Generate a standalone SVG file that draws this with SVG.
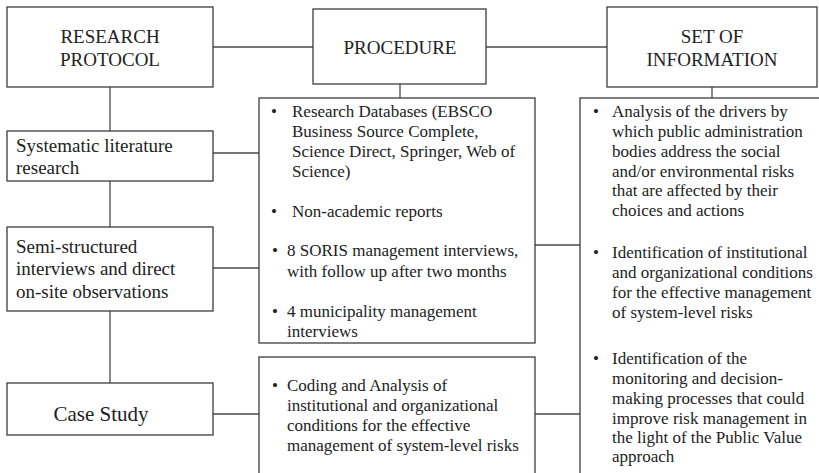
<svg xmlns="http://www.w3.org/2000/svg" width="819" height="473" viewBox="0 0 819 473">
  <style>
    .box { fill: #ffffff; stroke: #3c3c3c; stroke-width: 1.3; }
    .link { fill: none; stroke: #4a4a4a; stroke-width: 1.3; }
    .head { font-family: "Liberation Serif", "Times New Roman", serif; font-size: 19px; fill: #222222; text-anchor: middle; }
    .step { font-family: "Liberation Serif", "Times New Roman", serif; font-size: 19px; fill: #222222; }
    .body { font-family: "Liberation Serif", "Times New Roman", serif; font-size: 17px; fill: #222222; }
  </style>
  <rect width="819" height="473" fill="#ffffff"/>

  <!-- connectors -->
  <g id="connectors">
    <line class="link" x1="213" y1="47" x2="313" y2="47"/>
    <line class="link" x1="486" y1="47" x2="607" y2="47"/>
    <line class="link" x1="110" y1="87" x2="110" y2="131"/>
    <line class="link" x1="110" y1="181" x2="110" y2="227"/>
    <line class="link" x1="110" y1="311" x2="110" y2="383"/>
    <line class="link" x1="400" y1="84" x2="400" y2="98"/>
    <line class="link" x1="712" y1="87" x2="712" y2="98"/>
    <line class="link" x1="213" y1="153" x2="259" y2="153"/>
    <line class="link" x1="213" y1="268" x2="259" y2="268"/>
    <line class="link" x1="213" y1="414" x2="259" y2="414"/>
    <line class="link" x1="535" y1="245" x2="580" y2="245"/>
    <line class="link" x1="535" y1="414" x2="580" y2="414"/>
  </g>

  <!-- column headers -->
  <g id="research-protocol">
    <rect class="box" x="7" y="7" width="206" height="80"/>
    <text class="head" x="110" y="43">RESEARCH</text>
    <text class="head" x="110" y="66">PROTOCOL</text>
  </g>
  <g id="procedure">
    <rect class="box" x="313" y="9" width="173" height="75"/>
    <text class="head" x="400" y="54">PROCEDURE</text>
  </g>
  <g id="set-of-information">
    <rect class="box" x="607" y="7" width="210" height="80"/>
    <text class="head" x="712" y="43">SET OF</text>
    <text class="head" x="712" y="66">INFORMATION</text>
  </g>

  <!-- protocol steps -->
  <g id="systematic-literature">
    <rect class="box" x="7" y="131" width="206" height="50"/>
    <text class="step" x="16" y="152">Systematic literature</text>
    <text class="step" x="16" y="174">research</text>
  </g>
  <g id="semi-structured">
    <rect class="box" x="7" y="227" width="206" height="84"/>
    <text class="step" x="16" y="253">Semi-structured</text>
    <text class="step" x="16" y="275">interviews and direct</text>
    <text class="step" x="16" y="298">on-site observations</text>
  </g>
  <g id="case-study">
    <rect class="box" x="7" y="383" width="206" height="52"/>
    <text class="head" x="101" y="421" style="font-size:21px">Case Study</text>
  </g>

  <!-- procedure details -->
  <g id="procedure-sources">
    <rect class="box" x="259" y="98" width="276" height="245"/>
    <text class="body" x="271" y="117">•</text>
    <text class="body" x="292" y="117">Research Databases (EBSCO</text>
    <text class="body" x="292" y="137">Business Source Complete,</text>
    <text class="body" x="292" y="157">Science Direct, Springer, Web of</text>
    <text class="body" x="292" y="177">Science)</text>
    <text class="body" x="271" y="217">•</text>
    <text class="body" x="292" y="217">Non-academic reports</text>
    <text class="body" x="272" y="256">•</text>
    <text class="body" x="287" y="256">8 SORIS management interviews,</text>
    <text class="body" x="287" y="277">with follow up after two months</text>
    <text class="body" x="272" y="317">•</text>
    <text class="body" x="287" y="317">4 municipality management</text>
    <text class="body" x="287" y="337">interviews</text>
  </g>
  <g id="procedure-coding">
    <rect class="box" x="259" y="357" width="276" height="130"/>
    <text class="body" x="272" y="391">•</text>
    <text class="body" x="287" y="391">Coding and Analysis of</text>
    <text class="body" x="287" y="411">institutional and organizational</text>
    <text class="body" x="287" y="431">conditions for the effective</text>
    <text class="body" x="287" y="451">management of system-level risks</text>
  </g>

  <!-- information outputs -->
  <g id="information-outputs">
    <rect class="box" x="580" y="98" width="250" height="390"/>
    <text class="body" x="593" y="117">•</text>
    <text class="body" x="612" y="117">Analysis of the drivers by</text>
    <text class="body" x="612" y="137">which public administration</text>
    <text class="body" x="612" y="157">bodies address the social</text>
    <text class="body" x="612" y="177">and/or environmental risks</text>
    <text class="body" x="612" y="196">that are affected by their</text>
    <text class="body" x="612" y="216">choices and actions</text>
    <text class="body" x="593" y="258">•</text>
    <text class="body" x="612" y="258">Identification of institutional</text>
    <text class="body" x="612" y="278">and organizational conditions</text>
    <text class="body" x="612" y="298">for the effective management</text>
    <text class="body" x="612" y="318">of system-level risks</text>
    <text class="body" x="593" y="364">•</text>
    <text class="body" x="612" y="364">Identification of the</text>
    <text class="body" x="612" y="384">monitoring and decision-</text>
    <text class="body" x="612" y="404">making processes that could</text>
    <text class="body" x="612" y="424">improve risk management in</text>
    <text class="body" x="612" y="443">the light of the Public Value</text>
    <text class="body" x="612" y="462">approach</text>
  </g>
</svg>
